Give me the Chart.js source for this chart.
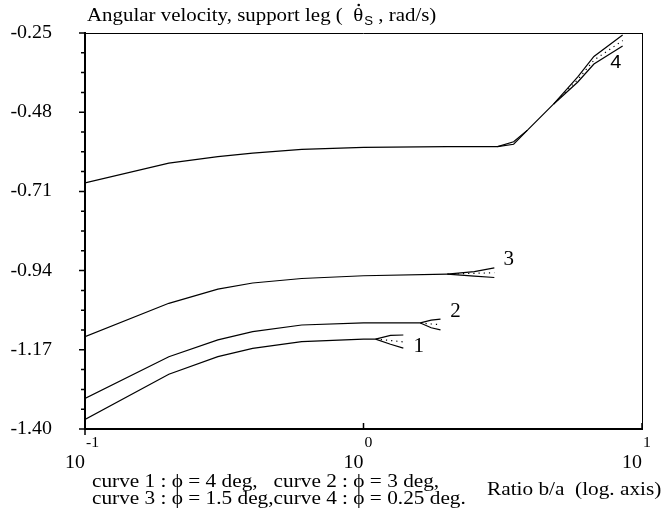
<!DOCTYPE html>
<html>
<head>
<meta charset="utf-8">
<script src="https://cdn.jsdelivr.net/npm/chart.js@4.4.1/dist/chart.umd.min.js"></script>
<style>
html, body { margin: 0; padding: 0; background: #fff; }
#wrap { width: 665px; height: 512px; }
</style>
</head>
<body>
<div id="wrap"><canvas id="chart" width="665" height="512"></canvas></div>
<script>
// valores (eixo x logarítmico, b/a)
const yTicks = [-1.40, -1.17, -0.94, -0.71, -0.48, -0.25];
const xTicks = [0.1, 1, 10];
const xTickExp = ['-1', '0', '1'];

const c1X = [0.1, 0.2, 0.3, 0.4, 0.6, 1.0, 1.105];
const c1Y = [-1.372, -1.241, -1.190, -1.166, -1.146, -1.139, -1.139];
const c1FanX = [1.105, 1.25, 1.39];
const c1Up = [-1.139, -1.128, -1.127];
const c1Low = [-1.139, -1.154, -1.165];
const c1Mid = [-1.139, -1.143, -1.147];

const c2X = [0.1, 0.2, 0.3, 0.4, 0.6, 1.0, 1.6];
const c2Y = [-1.311, -1.190, -1.141, -1.117, -1.098, -1.092, -1.092];
const c2FanX = [1.6, 1.75, 1.89];
const c2Up = [-1.092, -1.084, -1.081];
const c2Low = [-1.092, -1.106, -1.112];
const c2Mid = [-1.092, -1.095, -1.097];

const c3X = [0.1, 0.2, 0.3, 0.4, 0.6, 1.0, 2.0];
const c3Y = [-1.132, -1.035, -0.994, -0.976, -0.963, -0.955, -0.950];
const c3FanX = [2.0, 2.5, 2.95];
const c3Up = [-0.950, -0.943, -0.932];
const c3Low = [-0.950, -0.956, -0.960];
const c3Mid = [-0.950, -0.948, -0.946];

const c4X = [0.1, 0.2, 0.3, 0.4, 0.6, 1.0, 2.0, 3.03, 3.46, 3.88, 4.82];
const c4Y = [-0.685, -0.628, -0.609, -0.599, -0.588, -0.582, -0.580, -0.580, -0.566, -0.532, -0.456];
const c4LensX = [3.03, 3.46, 3.88];
const c4LensY = [-0.580, -0.573, -0.532];
const c4FanX = [4.82, 5.87, 6.72, 8.52];
const c4Up = [-0.456, -0.378, -0.318, -0.256];
const c4Low = [-0.456, -0.393, -0.340, -0.288];
const c4Mid = [-0.456, -0.386, -0.329, -0.272];

const curveLabels = ['1', '2', '3', '4'];
const curveLabelX = [1.58, 2.14, 3.32, 8.05];
const curveLabelY = [-1.162, -1.060, -0.909, -0.337];

const SERIF = '"Liberation Serif", "DejaVu Serif", serif';
const SANS = '"Liberation Sans", Arial, sans-serif';

function pts(xs, ys){ return xs.map((x, i) => ({ x: x, y: ys[i] })); }

function solid(xs, ys){
	return { data: pts(xs, ys), borderColor: '#000', borderWidth: 1.2, pointRadius: 0, tension: 0, fill: false };
}
function dotted(xs, ys){
	return { data: pts(xs, ys), borderColor: '#000', borderWidth: 1.2, borderDash: [1.2, 4], pointRadius: 0, tension: 0, fill: false };
}

const datasets = [
	solid(c1X, c1Y), solid(c1FanX, c1Up), solid(c1FanX, c1Low), dotted(c1FanX, c1Mid),
	solid(c2X, c2Y), solid(c2FanX, c2Up), solid(c2FanX, c2Low), dotted(c2FanX, c2Mid),
	solid(c3X, c3Y), solid(c3FanX, c3Up), solid(c3FanX, c3Low), dotted(c3FanX, c3Mid),
	solid(c4X, c4Y), solid(c4LensX, c4LensY), solid(c4FanX, c4Up), solid(c4FanX, c4Low), dotted(c4FanX, c4Mid)
];

// texto um pouco alargado na horizontal, como no original
function txt(ctx, s, x, y, font, sx, align){
	ctx.save();
	ctx.font = font;
	const w = ctx.measureText(s).width * sx;
	let x0 = x;
	if (align === 'right') x0 = x - w;
	else if (align === 'center') x0 = x - w / 2;
	ctx.translate(x0, y);
	ctx.scale(sx, 1);
	ctx.textAlign = 'left';
	ctx.fillText(s, 0, 0);
	ctx.restore();
	return w;
}

const decor = {
	id: 'decor',
	afterDraw(chart){
		const ctx = chart.ctx;
		const a = chart.chartArea;
		const xs = chart.scales.x, ys = chart.scales.y;
		ctx.save();
		ctx.strokeStyle = '#000';
		ctx.fillStyle = '#000';
		ctx.lineWidth = 1;
		ctx.beginPath();
		ctx.moveTo(a.left, a.top + 0.5); ctx.lineTo(a.right, a.top + 0.5);
		ctx.moveTo(a.right + 0.5, a.top); ctx.lineTo(a.right + 0.5, a.bottom);
		ctx.stroke();

		// marcas do eixo y (4 subdivisões) e rótulos
		ctx.lineWidth = 1.5;
		ctx.beginPath();
		for (let i = 0; i < yTicks.length; i++){
			const py = ys.getPixelForValue(yTicks[i]);
			ctx.moveTo(a.left - 6, py); ctx.lineTo(a.left, py);
			if (i < yTicks.length - 1){
				const step = (yTicks[i + 1] - yTicks[i]) / 4;
				for (let k = 1; k < 4; k++){
					const pm = ys.getPixelForValue(yTicks[i] + step * k);
					ctx.moveTo(a.left - 4, pm); ctx.lineTo(a.left, pm);
				}
			}
		}
		ctx.stroke();
		ctx.textBaseline = 'middle';
		yTicks.forEach(v => {
			txt(ctx, v.toFixed(2), 52, ys.getPixelForValue(v), '19px ' + SERIF, 1.05, 'right');
		});

		// eixo x: marcas e rótulos 10^n
		ctx.beginPath();
		xTicks.forEach((v, i) => {
			const px = xs.getPixelForValue(v);
			if (i === 0){ ctx.moveTo(px, a.bottom); ctx.lineTo(px, a.bottom + 6); }
			else { ctx.moveTo(px, a.bottom); ctx.lineTo(px, a.bottom - 6); }
		});
		ctx.stroke();
		ctx.textBaseline = 'alphabetic';
		xTicks.forEach((v, i) => {
			const px = xs.getPixelForValue(v);
			txt(ctx, '10', px, a.bottom + 39, '19px ' + SERIF, 1.05, 'right');
			txt(ctx, xTickExp[i], px + 1, a.bottom + 18, '15px ' + SERIF, 1.05, 'left');
		});

		// rótulos das curvas
		ctx.textBaseline = 'middle';
		curveLabels.forEach((t, i) => {
			const f = (i === 3 ? '19px ' + SANS : '20px ' + SERIF);
			txt(ctx, t, xs.getPixelForValue(curveLabelX[i]), ys.getPixelForValue(curveLabelY[i]), f, 1.05, 'center');
		});

		// título com theta ponto, índice S
		ctx.textBaseline = 'alphabetic';
		const TF = '19px ' + SERIF;
		let tx = 87;
		tx += txt(ctx, 'Angular velocity, support leg (  ', tx, 21, TF, 1.1, 'left');
		const wt = txt(ctx, '\u03B8', tx, 21, TF, 1.1, 'left');
		ctx.beginPath();
		ctx.arc(tx + wt / 2 + 0.5, 5, 1.3, 0, Math.PI * 2);
		ctx.fill();
		tx += wt;
		tx += txt(ctx, 'S', tx + 1, 25, '12px ' + SANS, 1.1, 'left') + 1;
		txt(ctx, ' , rad/s)', tx, 21, TF, 1.1, 'left');

		// legenda inferior
		const LF = '19px ' + SERIF;
		txt(ctx, 'curve 1 : \u03D5 = 4 deg,   curve 2 : \u03D5 = 3 deg,', 92, 487, LF, 1.12, 'left');
		txt(ctx, 'curve 3 : \u03D5 = 1.5 deg,curve 4 : \u03D5 = 0.25 deg.', 92, 504, LF, 1.12, 'left');
		txt(ctx, 'Ratio b/a  (log. axis)', 487, 495, LF, 1.12, 'left');
		ctx.restore();
	}
};

new Chart(document.getElementById('chart'), {
	type: 'line',
	data: { datasets: datasets },
	plugins: [decor],
	options: {
		responsive: false,
		animation: false,
		layout: { padding: { left: 0, right: 23, top: 33, bottom: 0 } },
		plugins: { legend: { display: false }, tooltip: { enabled: false } },
		scales: {
			x: {
				type: 'logarithmic', min: 0.1, max: 10,
				grid: { display: false },
				ticks: { display: false },
				border: { display: true, color: '#000', width: 2 },
				afterFit: s => { s.height = 83; }
			},
			y: {
				type: 'linear', min: -1.40, max: -0.25,
				grid: { display: false },
				ticks: { display: false },
				border: { display: true, color: '#000', width: 2 },
				afterFit: s => { s.width = 85; }
			}
		}
	}
});
</script>
</body>
</html>
